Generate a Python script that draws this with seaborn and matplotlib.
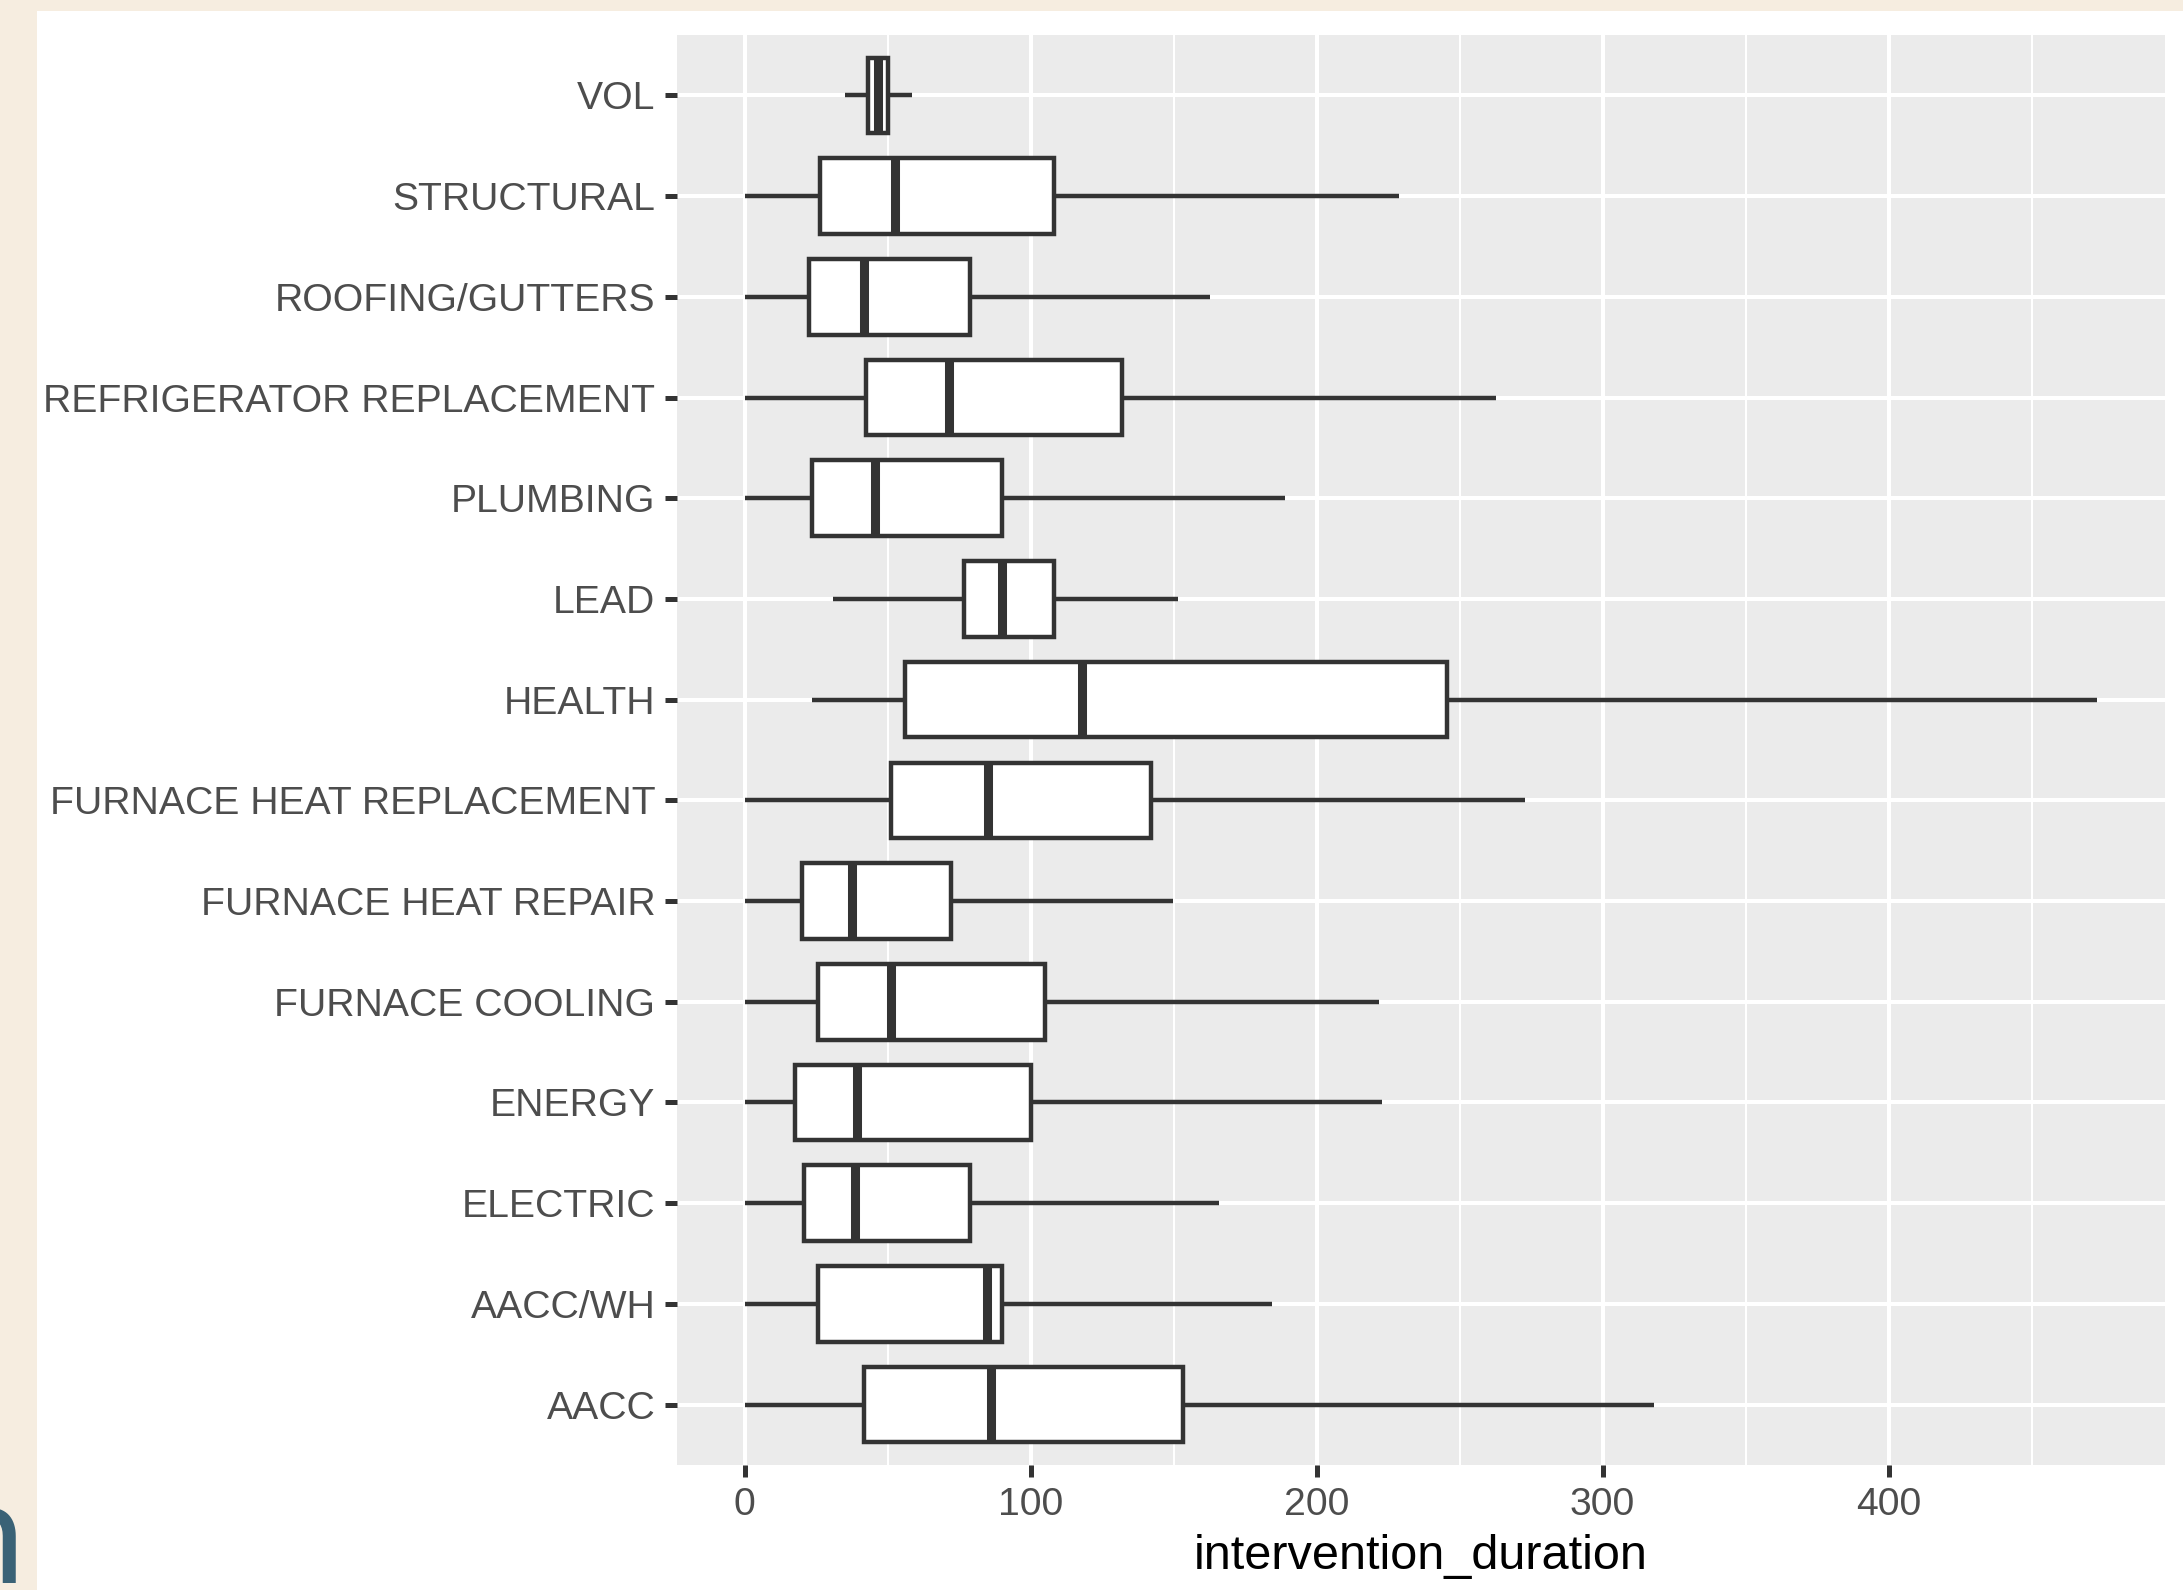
"""Boxplot of intervention duration by intervention type (ggplot look)."""

import matplotlib
matplotlib.use("Agg")
import matplotlib.pyplot as plt
import matplotlib.patches as mpatches
import numpy as np
import pandas as pd
import seaborn as sns

# five-number summaries, top to bottom
categories = [
    "VOL", "STRUCTURAL", "ROOFING/GUTTERS", "REFRIGERATOR REPLACEMENT",
    "PLUMBING", "LEAD", "HEALTH", "FURNACE HEAT REPLACEMENT",
    "FURNACE HEAT REPAIR", "FURNACE COOLING", "ENERGY", "ELECTRIC",
    "AACC/WH", "AACC",
]
whisker_low = [35.0, 0, 0, 0, 0, 30.9, 23.4, 0, 0, 0, 0, 0, 0, 0]
q1 = [43.3, 26.5, 22.4, 42.5, 23.4, 76.7, 56.0, 51.1, 20.0, 25.8, 17.5, 20.7, 25.6, 41.7]
median = [46.6, 52.5, 41.7, 71.6, 45.5, 89.9, 118.0, 85.2, 37.5, 51.1, 39.4, 38.5, 84.6, 86.0]
q3 = [50.0, 108.3, 78.9, 131.8, 90.1, 108.0, 245.7, 142.1, 72.0, 105.1, 100.2, 78.9, 90.0, 153.3]
whisker_high = [58.4, 228.8, 162.7, 262.8, 188.8, 151.7, 473.0, 273.0, 149.9, 221.9, 222.9, 165.8, 184.4, 317.8]

x_ticks = [0, 100, 200, 300, 400]
x_minor = [50, 150, 250, 350, 450]

# long form: five points per group reproduce the summary exactly
rows = []
for i, cat in enumerate(categories):
    for v in (whisker_low[i], q1[i], median[i], q3[i], whisker_high[i]):
        rows.append({"intervention_type": cat, "intervention_duration": v})
df = pd.DataFrame(rows)

W, H = 2183, 1590
sns.set_style("darkgrid", {"axes.facecolor": "#EBEBEB", "grid.color": "white"})
plt.rcParams["font.family"] = ["Liberation Sans", "DejaVu Sans"]

fig = plt.figure(figsize=(W / 100, H / 100), dpi=100, facecolor="#F6EDE0")
# white card on the beige page
fig.patches.append(mpatches.Rectangle((37 / W, 0), 1 - 37 / W, 1 - 11 / H,
                                      transform=fig.transFigure, facecolor="white",
                                      edgecolor="none", zorder=-5))
fig.text(25 / W, 1 - 1583 / H, "n", ha="right", va="baseline", fontsize=105,
         color="#3A6276", family="Lato")

ax = fig.add_axes([677 / W, 1 - 1465 / H, (2165 - 677) / W, (1465 - 35) / H])
ax.set_facecolor("#EBEBEB")

line = "#333333"
sns.boxplot(data=df, x="intervention_duration", y="intervention_type", order=categories,
            whis=(0, 100), width=0.75, color="white", saturation=1, linecolor=line,
            linewidth=3.2, showcaps=False, fliersize=0, ax=ax,
            medianprops={"linewidth": 6.5, "color": line},
            boxprops={"facecolor": "white", "edgecolor": line})

lo, hi = min(whisker_low), max(whisker_high)
pad = 0.05 * (hi - lo)
ax.set_xlim(lo - pad, hi + pad)
ax.set_ylim(len(categories) - 1 + 0.6, -0.6)

ax.set_xticks(x_ticks)
ax.set_xticks(x_minor, minor=True)
ax.grid(True, which="major", color="white", linewidth=2.9)
ax.grid(True, which="minor", axis="x", color="white", linewidth=1.5)
ax.set_axisbelow(True)
for s in ax.spines.values():
    s.set_visible(False)

ax.tick_params(axis="both", which="major", bottom=True, left=True, length=8.6,
               width=3.6, color=line, labelsize=28.2, labelcolor="#4D4D4D", pad=7)
ax.tick_params(axis="x", which="minor", bottom=False, length=0)
ax.set_ylabel("")
ax.set_xlabel("intervention_duration", fontsize=35, color="black", labelpad=8)

fig.savefig("out.png", dpi=100, facecolor=fig.get_facecolor())
plt.close(fig)
